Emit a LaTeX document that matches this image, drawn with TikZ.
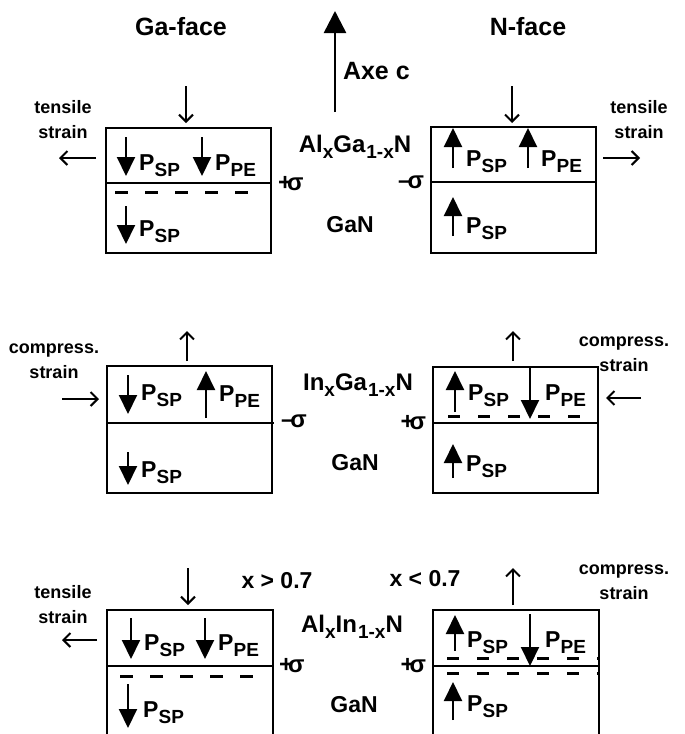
\documentclass[tikz,border=0pt]{standalone}
\usepackage{fontspec}
\setmainfont{Liberation Sans}
\usetikzlibrary{arrows.meta}
\newcommand\lsub[1]{\raisebox{-6pt}{\fontsize{19}{19}\selectfont #1}}
\newcommand\polar[1]{P\kern0.3pt\raisebox{-6pt}{\fontsize{19}{19}\selectfont #1}}
\begin{document}
\begin{tikzpicture}[x=1pt,y=-1pt,
  every node/.style={inner sep=0pt, outer sep=0pt},
  layerbox/.style={draw, line width=2pt, minimum width=165pt, minimum height=125pt, anchor=north west},
  boxline/.style={line width=2pt},
  fat/.style={line width=2pt, -{Triangle[length=19pt,width=18pt]}},
  thinarr/.style={line width=2pt, -{Straight Barb[length=7pt,width=14pt]}},
  dashrow/.style={line width=3pt, dash pattern=on 13pt off 17pt},
  plab/.style={font=\bfseries\fontsize{23}{23}\selectfont, anchor=base west},
  strainlab/.style={font=\bfseries\fontsize{18}{25}\selectfont, align=center},
  formula/.style={font=\bfseries\fontsize{24}{24}\selectfont, anchor=base},
  sig/.style={font=\bfseries\fontsize{24}{24}\selectfont},
  title/.style={font=\bfseries\fontsize{25}{25}\selectfont, anchor=base},
]
\fill[white] (0,0) rectangle (685,734);
\useasboundingbox (0,0) rectangle (685,734);

% titles and c axis
\node[title] (gaface) at (181,35) {Ga-face};
\node[title] (nface) at (528,35) {N-face};
\coordinate (cbot) at (335,112);
\coordinate (ctop) at (335,11);
\draw[line width=2.5pt, -{Triangle[length=22pt,width=22pt]}] (cbot) -- (ctop);
\node[title, anchor=base west, font=\bfseries\fontsize{25}{25}\selectfont] (axec) at (343,79) {Axe c};

% ================= Row 1: AlGaN/GaN =================
\node[layerbox, minimum height=125pt] (b1l) at (106,128) {};
\draw[boxline] (106,183) -- (271,183);
\draw[thinarr] (186,86) -- (186,123);
\draw[fat] (126,137) -- (126,176);
\node[plab] (p1a) at (139,170) {\polar{SP}};
\draw[fat] (202,137) -- (202,176);
\node[plab] (p1b) at (215,170) {\polar{PE}};
\draw[dashrow] (115,192) -- (250,192);
\draw[fat] (126,206) -- (126,244);
\node[plab] (p1c) at (139,236) {\polar{SP}};
\node[sig, anchor=west] (s1l) at (278,184) {+\kern-5pt σ};
\node[strainlab] (t1l) at (63,120) {tensile\\strain};
\draw[thinarr] (96,158) -- (59,158);

\node[layerbox, minimum height=126pt] (b1r) at (431,127) {};
\draw[boxline] (431,182) -- (597,182);
\draw[thinarr] (512,86) -- (512,123);
\draw[fat] (453,168) -- (453,128);
\node[plab] (p1d) at (466,166) {\polar{SP}};
\draw[fat] (528,168) -- (528,128);
\node[plab] (p1e) at (541,166) {\polar{PE}};
\draw[fat] (453,236) -- (453,197);
\node[plab] (p1f) at (466,233) {\polar{SP}};
\node[sig, anchor=east] (s1r) at (424,182) {\kern-1pt–\kern-4pt σ};
\node[strainlab] (t1r) at (639,120) {tensile\\strain};
\draw[thinarr] (603,158) -- (640,158);

\node[formula] (f1) at (355,152) {Al\lsub{x}Ga\kern1pt\lsub{1-x}N};
\node[formula, font=\bfseries\fontsize{23}{23}\selectfont] (g1) at (350,232) {GaN};

% ================= Row 2: InGaN/GaN =================
\node[layerbox, minimum height=127pt] (b2l) at (107,366) {};
\draw[boxline] (107,423) -- (274,423);
\draw[thinarr] (187,361) -- (187,331);
\draw[fat] (128,375) -- (128,414);
\node[plab] (p2a) at (141,400) {\polar{SP}};
\draw[fat] (206,418) -- (206,371);
\node[plab] (p2b) at (219,401) {\polar{PE}};
\draw[fat] (128,452) -- (128,485);
\node[plab] (p2c) at (141,477) {\polar{SP}};
\node[sig, anchor=west] (s2l) at (281,421) {–\kern-4pt σ};
\node[strainlab] (t2l) at (54,361) {compress.\\strain};
\draw[thinarr] (62,399) -- (99,399);

\node[layerbox, minimum height=126pt] (b2r) at (433,367) {};
\draw[boxline] (433,423) -- (598,423);
\draw[thinarr] (513,361) -- (513,331);
\draw[fat] (455,412) -- (455,371);
\node[plab] (p2d) at (468,400) {\polar{SP}};
\draw[fat] (530,367) -- (530,419);
\node[plab] (p2e) at (545,400) {\polar{PE}};
\draw[dashrow, dash pattern=on 12pt off 18pt] (448,416) -- (582,416);
\draw[fat] (453,478) -- (453,444);
\node[plab] (p2f) at (466,471) {\polar{SP}};
\node[sig, anchor=east] (s2r) at (426,423) {+\kern-5pt σ};
\node[strainlab] (t2r) at (624,354) {compress.\\strain};
\draw[thinarr] (641,398) -- (606,398);

\node[formula] (f2) at (358,390) {In\lsub{x}Ga\kern1pt\lsub{1-x}N};
\node[formula, font=\bfseries\fontsize{23}{23}\selectfont] (g2) at (355,470) {GaN};

% ================= Row 3: AlInN/GaN =================
\draw[boxline] (107,736) -- (107,610) -- (273,610) -- (273,736);
\draw[boxline] (107,666) -- (273,666);
\draw[thinarr] (188,568) -- (188,605);
\draw[fat] (131,618) -- (131,659);
\node[plab] (p3a) at (144,650) {\polar{SP}};
\draw[fat] (205,618) -- (205,659);
\node[plab] (p3b) at (218,650) {\polar{PE}};
\draw[dashrow] (120,676) -- (254,676);
\draw[fat] (128,684) -- (128,728);
\node[plab] (p3c) at (143,717) {\polar{SP}};
\node[sig, anchor=west] (s3l) at (279,666) {+\kern-5pt σ};
\node[strainlab] (t3l) at (63,605) {tensile\\strain};
\draw[thinarr] (97,640) -- (62,640);
\node[formula, font=\bfseries\fontsize{23}{23}\selectfont] (xg) at (277,588) {x > 0.7};

\draw[boxline] (433,736) -- (433,610) -- (599,610) -- (599,736);
\draw[boxline] (433,666) -- (599,666);
\draw[thinarr] (513,605) -- (513,568);
\draw[fat] (455,651) -- (455,615);
\node[plab] (p3d) at (467,647) {\polar{SP}};
\draw[fat] (530,614) -- (530,666);
\node[plab] (p3e) at (545,647) {\polar{PE}};
\draw[dashrow, dash pattern=on 12pt off 18pt] (447,658) -- (600,658);
\draw[dashrow, dash pattern=on 12pt off 18pt] (447,673) -- (600,673);
\draw[fat] (453,720) -- (453,682);
\node[plab] (p3f) at (467,711) {\polar{SP}};
\node[sig, anchor=east] (s3r) at (426,666) {+\kern-5pt σ};
\node[strainlab] (t3r) at (624,582) {compress.\\strain};
\node[formula, font=\bfseries\fontsize{23}{23}\selectfont] (xl) at (425,586) {x < 0.7};

\node[formula] (f3) at (352,632) {Al\lsub{x}In\kern1pt\lsub{1-x}N};
\node[formula, font=\bfseries\fontsize{23}{23}\selectfont] (g3) at (354,712) {GaN};
\end{tikzpicture}
\end{document}
